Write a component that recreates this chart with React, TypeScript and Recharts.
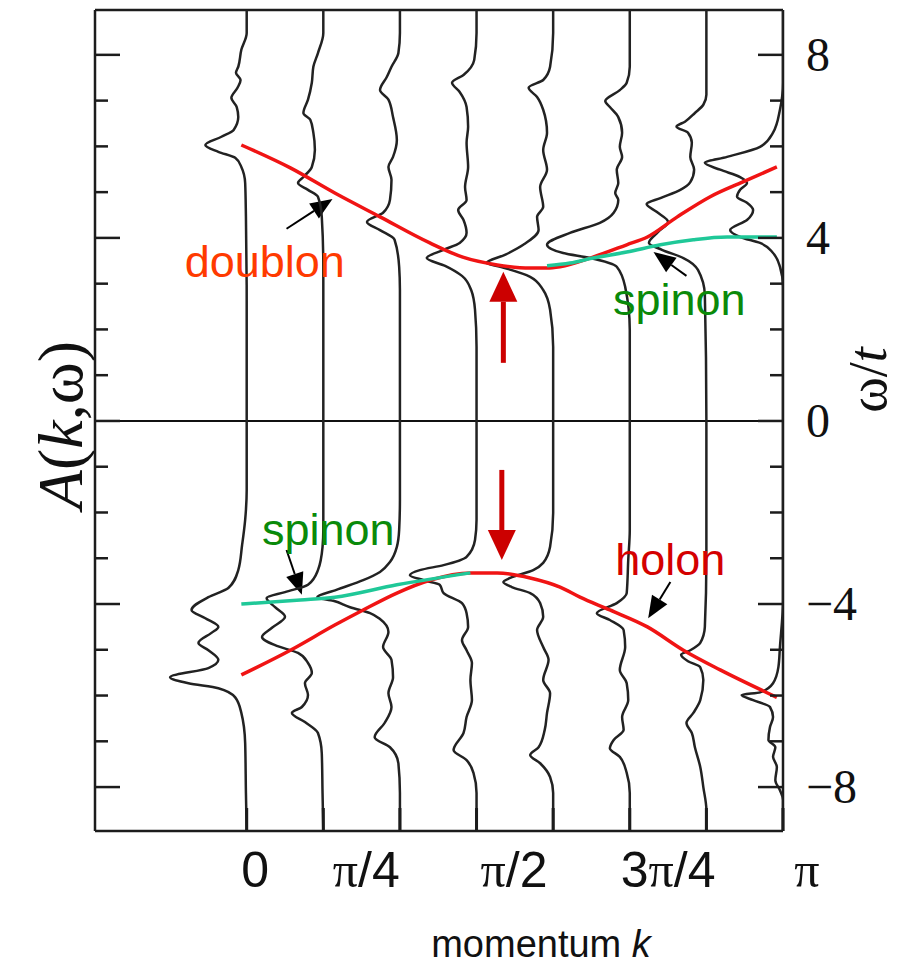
import { ComposedChart, Scatter, XAxis, YAxis, ReferenceLine, ReferenceDot } from 'recharts';

// spectrum baselines (one per momentum), in units of the spectrum spacing
const baselines = [0, 1, 2, 3, 4, 5, 6, 7];

// each spectrum: [peak height A (leftward, in baseline spacings), omega/t]
const spec0: [number, number][] = [
  [0, 8.98], [0, 8.48], [0.07, 8.11], [0.11, 7.74], [0.14, 7.61], [0.08, 7.45], [0.12, 7.28], [0.2, 7.06],
  [0.13, 6.86], [0.11, 6.64], [0.17, 6.36], [0.33, 6.21], [0.54, 6.03], [0.37, 5.88], [0.15, 5.75], [0.07, 5.55],
  [0.02, 5.2], [0.01, 4.46], [0, 2.64], [0, 0], [0, -1.51], [0.02, -2.16], [0.06, -2.71], [0.11, -3.26],
  [0.24, -3.65], [0.5, -3.85], [0.72, -4.13], [0.54, -4.31], [0.37, -4.5], [0.46, -4.63], [0.63, -4.85],
  [0.5, -5.01], [0.37, -5.22], [0.5, -5.4], [1.0, -5.6], [0.76, -5.73], [0.37, -5.84], [0.15, -6.04],
  [0.07, -6.38], [0.02, -7.04], [0.01, -8.13], [0, -8.96],
];
const spec1: [number, number][] = [
  [0, 8.98], [0, 8.48], [0.07, 8.04], [0.13, 7.74], [0.15, 7.39], [0.2, 7.02], [0.26, 6.73], [0.17, 6.58],
  [0.13, 6.3], [0.11, 5.92], [0.15, 5.55], [0.26, 5.33], [0.33, 5.2], [0.2, 5.05], [0.07, 4.9], [0.02, 4.46],
  [0, 3.37], [0, 0], [0, -2.38], [0.01, -2.75], [0.07, -3.26], [0.2, -3.58], [0.5, -3.74], [0.74, -3.87],
  [0.63, -4.07], [0.5, -4.28], [0.67, -4.52], [0.8, -4.72], [0.63, -4.9], [0.33, -5.07], [0.2, -5.29],
  [0.15, -5.51], [0.24, -5.73], [0.2, -5.99], [0.28, -6.25], [0.41, -6.38], [0.24, -6.58], [0.07, -6.82],
  [0.02, -7.26], [0.01, -8.13], [0, -8.96],
];
const spec2: [number, number][] = [
  [0, 8.98], [0, 8.48], [0.02, 8.04], [0.11, 7.74], [0.17, 7.52], [0.26, 7.23], [0.15, 7.02], [0.09, 6.64],
  [0.04, 6.14], [0.09, 5.77], [0.15, 5.55], [0.11, 5.27], [0.13, 4.83], [0.22, 4.55], [0.43, 4.35], [0.26, 4.17],
  [0.07, 3.96], [0.01, 3.37], [0, 2.86], [0, 0], [0, -1.73], [0.01, -2.38], [0.04, -2.75], [0.13, -3.08],
  [0.26, -3.3], [0.48, -3.48], [0.83, -3.69], [1.08, -3.85], [0.87, -3.93], [0.65, -4.07], [0.39, -4.2],
  [0.26, -4.33], [0.15, -4.61], [0.22, -4.94], [0.11, -5.22], [0.09, -5.6], [0.15, -5.95], [0.11, -6.25],
  [0.2, -6.6], [0.33, -6.91], [0.13, -7.13], [0.02, -7.48], [0, -8.13], [0, -8.96],
];
const spec3: [number, number][] = [
  [0, 8.98], [0, 8.48], [0.03, 7.89], [0.17, 7.56], [0.32, 7.39], [0.22, 7.19], [0.13, 6.86], [0.11, 6.43],
  [0.13, 6.08], [0.11, 5.55], [0.15, 5.11], [0.13, 4.83], [0.24, 4.61], [0.17, 4.39], [0.13, 4.11], [0.22, 3.89],
  [0.43, 3.74], [0.65, 3.56], [0.41, 3.39], [0.19, 3.17], [0.07, 2.86], [0.02, 2.43], [0, 1.62], [0, 0],
  [0, -2.16], [0.02, -2.6], [0.13, -2.97], [0.43, -3.15], [0.74, -3.26], [0.87, -3.37], [0.69, -3.48],
  [0.48, -3.58], [0.43, -3.76], [0.19, -3.98], [0.13, -4.2], [0.11, -4.5], [0.19, -4.79], [0.13, -5.01],
  [0.06, -5.29], [0.08, -5.66], [0.06, -6.1], [0.13, -6.47], [0.17, -6.82], [0.3, -7.19], [0.13, -7.41],
  [0.04, -7.69], [0, -8.13], [0, -8.96],
];
const spec4: [number, number][] = [
  [0, 8.98], [0, 8.48], [0.04, 7.74], [0.13, 7.45], [0.32, 7.28], [0.21, 7.08], [0.13, 6.8], [0.08, 6.3],
  [0.13, 5.92], [0.08, 5.49], [0.17, 5.11], [0.13, 4.68], [0.21, 4.46], [0.19, 4.17], [0.39, 3.85], [0.63, 3.63],
  [0.87, 3.45], [0.69, 3.37], [0.3, 3.15], [0.13, 2.86], [0.04, 2.43], [0, 1.62], [0, 0], [0, -2.01],
  [0.04, -2.75], [0.13, -3.1], [0.26, -3.26], [0.56, -3.43], [0.65, -3.52], [0.54, -3.63], [0.3, -3.76],
  [0.17, -3.98], [0.13, -4.28], [0.21, -4.57], [0.13, -4.94], [0.06, -5.22], [0.13, -5.66], [0.04, -5.95],
  [0.08, -6.38], [0.11, -6.75], [0.19, -7.13], [0.3, -7.3], [0.17, -7.48], [0.04, -7.78], [0, -8.13], [0, -8.96],
];
const spec5: [number, number][] = [
  [0, 8.98], [0, 7.74], [0.04, 7.39], [0.13, 7.23], [0.32, 6.99], [0.26, 6.86], [0.15, 6.64], [0.1, 6.3],
  [0.13, 5.99], [0.1, 5.77], [0.17, 5.49], [0.15, 5.2], [0.19, 4.98], [0.15, 4.83], [0.21, 4.55], [0.39, 4.33],
  [0.78, 4.11], [1.08, 3.85], [0.87, 3.67], [0.52, 3.56], [0.17, 3.37], [0.06, 2.93], [0, 1.99], [0, 0],
  [0, -2.38], [0.02, -3.04], [0.04, -3.76], [0.17, -3.98], [0.43, -4.2], [0.26, -4.35], [0.08, -4.57],
  [0.06, -4.94], [0.13, -5.44], [0.04, -5.73], [0.02, -6.1], [0.1, -6.47], [0.08, -6.75], [0.21, -6.97],
  [0.26, -7.15], [0.13, -7.34], [0.04, -7.69], [0, -8.13], [0, -8.96],
];
const spec6: [number, number][] = [
  [0, 8.98], [0, 7.13], [0.04, 6.91], [0.15, 6.73], [0.28, 6.54], [0.39, 6.43], [0.24, 6.3], [0.19, 6.08],
  [0.21, 5.77], [0.16, 5.49], [0.21, 5.22], [0.34, 5.05], [0.6, 4.87], [0.78, 4.74], [0.65, 4.57], [0.5, 4.35],
  [0.63, 4.13], [0.75, 3.89], [0.58, 3.74], [0.3, 3.56], [0.11, 3.3], [0.02, 2.75], [0, 0], [0, -3.04],
  [0.02, -4.5], [0.08, -4.85], [0.21, -5.01], [0.33, -5.11], [0.24, -5.25], [0.08, -5.38], [0.04, -5.66],
  [0.08, -6.1], [0.17, -6.38], [0.26, -6.6], [0.19, -6.82], [0.15, -7.13], [0.08, -7.56], [0.04, -8.0],
  [0, -8.5], [0, -8.96],
];
const spec7: [number, number][] = [
  [0, 8.98], [0, 7.39], [0.04, 6.8], [0.13, 6.3], [0.3, 5.99], [0.73, 5.77], [1.02, 5.64], [0.82, 5.49],
  [0.56, 5.33], [0.47, 5.2], [0.56, 5.05], [0.6, 4.9], [0.47, 4.77], [0.39, 4.61], [0.47, 4.39], [0.69, 4.17],
  [0.56, 4.02], [0.3, 3.89], [0.13, 3.67], [0.04, 3.37], [0, 2.93], [0, 0], [0, -3.91], [0.04, -4.94],
  [0.06, -5.38], [0.13, -5.73], [0.3, -5.93], [0.54, -5.99], [0.39, -6.1], [0.17, -6.25], [0.13, -6.47],
  [0.17, -6.69], [0.19, -6.97], [0.1, -7.13], [0.13, -7.34], [0.08, -7.56], [0.1, -7.85], [0.04, -8.07],
  [0, -8.28], [0, -8.96],
];
const spectra = [spec0, spec1, spec2, spec3, spec4, spec5, spec6, spec7];

// dispersion curves: [k position, omega/t]
const doublon: [number, number][] = [
  [-0.07, 6.03], [0.57, 5.53], [1.15, 4.98], [1.74, 4.46], [2.39, 3.89], [2.82, 3.58], [3.27, 3.41], [3.7, 3.34],
  [3.92, 3.34], [4.09, 3.37], [4.52, 3.58], [4.96, 3.85], [5.23, 4.02], [5.62, 4.46], [6.05, 4.9], [6.47, 5.22],
  [6.92, 5.55],
];
const holon: [number, number][] = [
  [-0.07, -5.55], [0.57, -5.01], [1.15, -4.46], [1.52, -4.13], [1.96, -3.76], [2.39, -3.48], [2.92, -3.32],
  [3.27, -3.32], [3.7, -3.43], [4.09, -3.63], [4.35, -3.85], [4.74, -4.13], [5.23, -4.5], [5.7, -5.01],
  [6.18, -5.44], [6.92, -6.04],
];
const spinonUpper: [number, number][] = [
  [3.92, 3.39], [4.22, 3.45], [4.52, 3.56], [4.96, 3.69], [5.4, 3.85], [5.83, 3.96], [6.27, 4.02], [6.92, 4.02],
];
const spinonLower: [number, number][] = [
  [-0.07, -4.0], [0.7, -3.91], [1.15, -3.85], [1.96, -3.58], [2.92, -3.32],
];

const omegaTicks = [-8, -7, -6, -5, -4, -3, -2, -1, 0, 1, 2, 3, 4, 5, 6, 7, 8];
const kTickPos = [0.11, 1.56, 3.49, 5.5, 7.31];
const kTickText = ['0', 'π/4', 'π/2', '3π/4', 'π'];

// annotation arrows: tail -> tip
const blackArrows = [
  { from: [0.52, 4.2], to: [1.12, 4.85] },
  { from: [5.74, 3.17], to: [5.31, 3.69] },
  { from: [0.52, -2.82], to: [0.72, -3.8] },
  { from: [5.53, -3.52], to: [5.24, -4.31] },
];
const redArrows = [
  { from: [3.35, 1.27], to: [3.35, 3.26] },
  { from: [3.33, -1.07], to: [3.33, -3.04] },
];
const labels = [
  { text: 'doublon', u: -0.81, w: 3.15, color: '#ff3a00' },
  { text: 'spinon', u: 4.78, w: 2.32, color: '#0a8a0a' },
  { text: 'spinon', u: 0.2, w: -2.71, color: '#0a8a0a' },
  { text: 'holon', u: 4.81, w: -3.37, color: '#d40000' },
];

const xDomain: [number, number] = [-1.98, 7];
const yDomain: [number, number] = [-8.96, 8.98];
const ink = '#1c1c1c';

const toPts = (arr: [number, number][]) => arr.map(([u, w]) => ({ u, w }));
const NoDot = () => <g />;

const LeftTick = (p: any) => {
  const len = p.payload.value % 4 === 0 ? 25 : 13;
  return <line x1={p.x} y1={p.y} x2={p.x + len} y2={p.y} stroke={ink} strokeWidth={2.5} />;
};
const RightTick = (p: any) => {
  const v = p.payload.value;
  const major = v % 4 === 0;
  return (
    <g>
      <line x1={p.x} y1={p.y} x2={p.x - (major ? 25 : 13)} y2={p.y} stroke={ink} strokeWidth={2.5} />
      {major && (
        <text x={p.x + 23} y={p.y + 16} fontSize={48} fontFamily="'Liberation Serif', serif" fill="#111">
          {String(v).replace('-', '\u2212')}
        </text>
      )}
    </g>
  );
};
const TopTick = (p: any) => <line x1={p.x} y1={p.y} x2={p.x} y2={p.y + 23} stroke={ink} strokeWidth={3} />;
// bottom axis: baseline marks plus the momentum labels
const BottomTick = (p: any) => {
  const v = p.payload.value;
  const idx = kTickPos.indexOf(v);
  if (idx < 0) return <line x1={p.x} y1={p.y} x2={p.x} y2={p.y - 23} stroke={ink} strokeWidth={3} />;
  const label = kTickText[idx];
  return (
    <text x={p.x} y={p.y + 56} textAnchor="middle" fontSize={50} fill="#111" fontFamily="'Liberation Sans', Arial, sans-serif">
      {label.split(/(π)/).map((s, i) =>
        s === 'π' ? <tspan key={i} fontFamily="'Liberation Serif', serif">π</tspan> : <tspan key={i}>{s}</tspan>
      )}
    </text>
  );
};

const arrowShape = (color: string, width: number, headLen: number, headHalf: number) => (p: any) => {
  const { x1, y1, x2, y2 } = p;
  const dx = x2 - x1;
  const dy = y2 - y1;
  const len = Math.hypot(dx, dy) || 1;
  const ux = dx / len;
  const uy = dy / len;
  const bx = x2 - ux * headLen;
  const by = y2 - uy * headLen;
  const pts = `${x2},${y2} ${bx - uy * headHalf},${by + ux * headHalf} ${bx + uy * headHalf},${by - ux * headHalf}`;
  return (
    <g>
      <line x1={x1} y1={y1} x2={bx} y2={by} stroke={color} strokeWidth={width} />
      <polygon points={pts} fill={color} />
    </g>
  );
};

export default function App() {
  return (
    <div style={{ width: 900, height: 972 }}>
      <style>{'body{margin:0}'}</style>
      <ComposedChart width={900} height={972} margin={{ top: 9, right: 116, bottom: 140, left: 94 }}>
        <XAxis xAxisId={0} type="number" dataKey="u" domain={xDomain} allowDataOverflow
          ticks={[...baselines, ...kTickPos]} interval={0} height={1} tickSize={0} tickMargin={0}
          tickLine={false} tick={<BottomTick />} axisLine={{ stroke: ink, strokeWidth: 2.5 }} />
        <XAxis xAxisId="top" orientation="top" type="number" domain={xDomain} allowDataOverflow ticks={baselines}
          interval={0} height={1} tickSize={0} tickMargin={0} tickLine={false} tick={<TopTick />}
          axisLine={{ stroke: ink, strokeWidth: 2.5 }} />
        <YAxis yAxisId={0} type="number" dataKey="w" domain={yDomain} allowDataOverflow ticks={omegaTicks}
          interval={0} width={1} tickSize={0} tickMargin={0} tickLine={false} tick={<LeftTick />}
          axisLine={{ stroke: ink, strokeWidth: 2.5 }} />
        <YAxis yAxisId="right" orientation="right" type="number" domain={yDomain} allowDataOverflow ticks={omegaTicks}
          interval={0} width={1} tickSize={0} tickMargin={0} tickLine={false} tick={<RightTick />}
          axisLine={{ stroke: ink, strokeWidth: 2.5 }} />

        <ReferenceLine y={0} stroke="#111" strokeWidth={2} />

        {spectra.map((s, i) => (
          <Scatter key={`s${i}`} data={s.map(([a, w]) => ({ u: baselines[i] - a, w }))} shape={NoDot}
            line={{ stroke: '#222', strokeWidth: 2.5 }} lineType="joint" lineJointType="monotoneY"
            isAnimationActive={false} />
        ))}

        <Scatter data={toPts(doublon)} shape={NoDot} line={{ stroke: '#f01414', strokeWidth: 3.5 }}
          lineType="joint" lineJointType="monotoneX" isAnimationActive={false} />
        <Scatter data={toPts(holon)} shape={NoDot} line={{ stroke: '#f01414', strokeWidth: 3.5 }}
          lineType="joint" lineJointType="monotoneX" isAnimationActive={false} />
        <Scatter data={toPts(spinonUpper)} shape={NoDot} line={{ stroke: '#1fc898', strokeWidth: 3.5 }}
          lineType="joint" lineJointType="monotoneX" isAnimationActive={false} />
        <Scatter data={toPts(spinonLower)} shape={NoDot} line={{ stroke: '#1fc898', strokeWidth: 3.5 }}
          lineType="joint" lineJointType="monotoneX" isAnimationActive={false} />

        {blackArrows.map((a, i) => (
          <ReferenceLine key={`b${i}`} segment={[{ x: a.from[0], y: a.from[1] }, { x: a.to[0], y: a.to[1] }]}
            shape={arrowShape('#000', 2, 22, 9)} />
        ))}
        {redArrows.map((a, i) => (
          <ReferenceLine key={`r${i}`} segment={[{ x: a.from[0], y: a.from[1] }, { x: a.to[0], y: a.to[1] }]}
            shape={arrowShape('#cc0000', 5, 30, 14)} />
        ))}
        {labels.map((l, i) => (
          <ReferenceDot key={`l${i}`} x={l.u} y={l.w} r={0}
            shape={(p: any) => (
              <text x={p.cx} y={p.cy} fontSize={45} fill={l.color} fontFamily="'Liberation Sans', Arial, sans-serif">
                {l.text}
              </text>
            )} />
        ))}

        <text transform="translate(82,425) rotate(-90)" textAnchor="middle" fontSize={64} fill="#111"
          fontFamily="'Liberation Serif', serif">
          <tspan fontStyle="italic">A</tspan>(<tspan fontStyle="italic">k</tspan>,ω)
        </text>
        <text transform="translate(886,380) rotate(-90)" textAnchor="middle" fontSize={54} fill="#111"
          fontFamily="'Liberation Serif', serif">
          ω/<tspan fontStyle="italic">t</tspan>
        </text>
        <text x={541} y={957} textAnchor="middle" fontSize={38} fill="#111"
          fontFamily="'Liberation Sans', Arial, sans-serif">
          momentum <tspan fontStyle="italic">k</tspan>
        </text>
      </ComposedChart>
    </div>
  );
}
